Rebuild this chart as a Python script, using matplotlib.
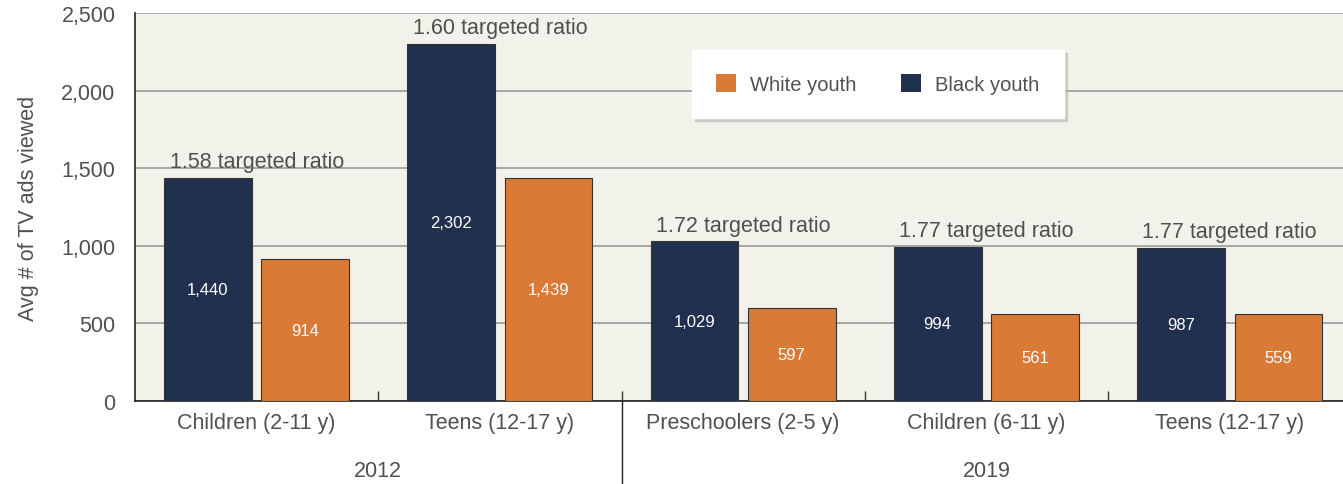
import numpy as np
import matplotlib; matplotlib.use("Agg")
import matplotlib.pyplot as plt
import matplotlib.transforms as mtransforms
from matplotlib.ticker import FuncFormatter

groups = ["Children (2-11 y)", "Teens (12-17 y)", "Preschoolers (2-5 y)",
          "Children (6-11 y)", "Teens (12-17 y)"]
black_youth = [1440, 2302, 1029, 994, 987]
white_youth = [914, 1439, 597, 561, 559]
ratios = ["1.58", "1.60", "1.72", "1.77", "1.77"]
years = ["2012", "2019"]
year_groups = [[0, 1], [2, 3, 4]]

NAVY = "#22304f"
ORANGE = "#d97a37"
BG = "#f3f2ea"
TXT = "#505050"

plt.rcParams["font.family"] = ["Liberation Sans", "DejaVu Sans"]

fig = plt.figure(figsize=(13.43, 4.85), dpi=100)
ax = fig.add_axes([135/1343, 1-402/485, 1-135/1343, (402-14)/485])
ax.set_facecolor(BG)

x = np.arange(len(groups))
w = 0.36
bb = ax.bar(x - 0.2, black_youth, w, color=NAVY, edgecolor="#333333", lw=0.8,
            label="Black youth", zorder=3)
bw = ax.bar(x + 0.2, white_youth, w, color=ORANGE, edgecolor="#333333", lw=0.8,
            label="White youth", zorder=3)

for rect, v in zip(bb, black_youth):
    ax.text(rect.get_x() + w/2, v/2, f"{v:,}", ha="center", va="center",
            color="white", fontsize=12, zorder=4)
for rect, v in zip(bw, white_youth):
    ax.text(rect.get_x() + w/2, v/2, f"{v:,}", ha="center", va="center",
            color="white", fontsize=12, zorder=4)
for xi, v, r in zip(x, black_youth, ratios):
    ax.annotate(f"{r} targeted ratio", (xi, v), xytext=(0, 4),
                textcoords="offset points", ha="center", va="bottom",
                fontsize=15.5, color=TXT, zorder=4)

ax.set_xlim(-0.5, 4.466)
ax.set_ylim(0, 2500)
ax.set_yticks(range(0, 2501, 500))
ax.yaxis.set_major_formatter(FuncFormatter(lambda v, p: f"{int(v):,}"))
ax.grid(axis="y", color="#9a9a9a", lw=1.2, zorder=0)
ax.tick_params(axis="y", length=0, pad=14, labelsize=15.5, labelcolor=TXT)
ax.set_xticks(x)
ax.set_xticklabels(groups)
ax.tick_params(axis="x", length=0, pad=8, labelsize=15.5, labelcolor=TXT)
ax.set_xticks([0.5, 1.5, 2.5, 3.5], minor=True)
ax.tick_params(axis="x", which="minor", direction="in", length=7, width=1, color="#333333")
ax.set_ylabel("Avg # of TV ads viewed", fontsize=15.5, color=TXT, labelpad=16)

for s in ["top", "right"]:
    ax.spines[s].set_visible(False)
for s in ["left", "bottom"]:
    ax.spines[s].set_color("#222222")
    ax.spines[s].set_linewidth(1.2)

trans = mtransforms.blended_transform_factory(ax.transData, ax.transAxes)
for yr, g in zip(years, year_groups):
    ax.text(np.mean(g), -0.18, yr, transform=trans, ha="center", va="center",
            fontsize=15.5, color=TXT)
ax.plot([1.5, 1.5], [0, -0.3], transform=trans, color="#222222", lw=1, clip_on=False)

handles = [bw, bb]
leg = ax.legend(handles, ["White youth", "Black youth"], ncol=2, loc="center",
                bbox_to_anchor=(0.615, 0.817), fontsize=14.5, frameon=True,
                fancybox=False, shadow={"color": "#b8b8b8", "alpha": 0.6},
                handlelength=1, handleheight=1, handletextpad=0.7,
                columnspacing=2.2, borderpad=1.2, borderaxespad=0,
                labelcolor=TXT)
leg.get_frame().set_edgecolor("white")
leg.get_frame().set_facecolor("white")
for h in leg.legend_handles:
    h.set_edgecolor("none")

fig.savefig("out.png", dpi=100, facecolor="white")
